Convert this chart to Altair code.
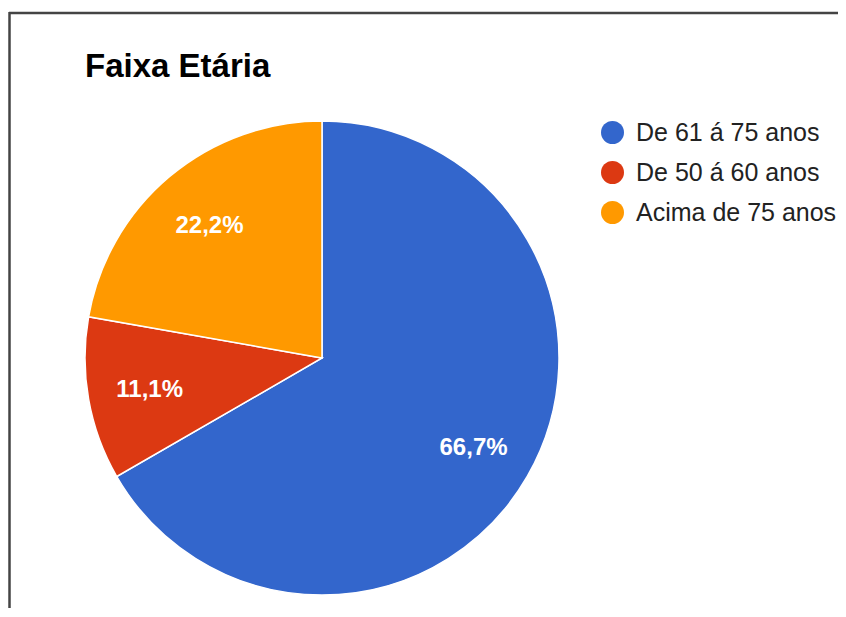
import altair as alt
import pandas as pd

categories = ["De 61 á 75 anos", "De 50 á 60 anos", "Acima de 75 anos"]
values = [6, 1, 2]
labels = ["66,7%", "11,1%", "22,2%"]
colors = ["#3366cc", "#dc3912", "#ff9900"]
order = [0, 1, 2]

df = pd.DataFrame({"cat": categories, "val": values, "lab": labels, "ord": order})

FONT = "Liberation Sans"
CX, CY, R = 314, 350, 237

color_scale = alt.Scale(domain=categories, range=colors)

base = alt.Chart(df).encode(
    theta=alt.Theta("val:Q", stack=True),
    order=alt.Order("ord:Q", sort="ascending"),
)

pie = base.mark_arc(stroke="white", strokeWidth=1.5).encode(
    color=alt.Color(
        "cat:N",
        scale=color_scale,
        sort=categories,
        legend=alt.Legend(
            title=None,
            orient="none",
            legendX=592,
            legendY=112,
            symbolType="circle",
            symbolSize=529,
            symbolStrokeWidth=0,
            labelFontSize=25,
            labelFont=FONT,
            labelColor="#222222",
            labelOffset=11,
            labelLimit=0,
            rowPadding=14,
            padding=0,
        ),
    ),
    x=alt.value(CX),
    y=alt.value(CY),
    radius=alt.value(R),
)

text = base.mark_text(
    font=FONT, fontSize=24, fontWeight="bold", color="white", align="center", baseline="middle"
).encode(
    text="lab:N",
    x=alt.value(CX),
    y=alt.value(CY + 2),
    radius=alt.value(175),
)

title = alt.Chart(pd.DataFrame({"t": ["Faixa Etária"]})).mark_text(
    font=FONT, fontSize=33, fontWeight="bold", color="#000000", align="left", baseline="alphabetic"
).encode(text="t:N", x=alt.value(77), y=alt.value(69))

frame_top = alt.Chart(pd.DataFrame({"a": [0]})).mark_rule(color="#444444", strokeWidth=2.5).encode(
    x=alt.value(1), x2=alt.value(830), y=alt.value(5)
)
frame_left = alt.Chart(pd.DataFrame({"a": [0]})).mark_rule(color="#444444", strokeWidth=2.5).encode(
    x=alt.value(1.5), y=alt.value(4), y2=alt.value(600)
)

chart = alt.layer(pie, text, title, frame_top, frame_left).properties(
    width=830, height=600, padding=0, autosize=alt.AutoSizeParams(type="none"),
    background="white",
).configure_view(stroke=None)

chart.save("out.html", embed_options={"renderer": "svg", "actions": False})
